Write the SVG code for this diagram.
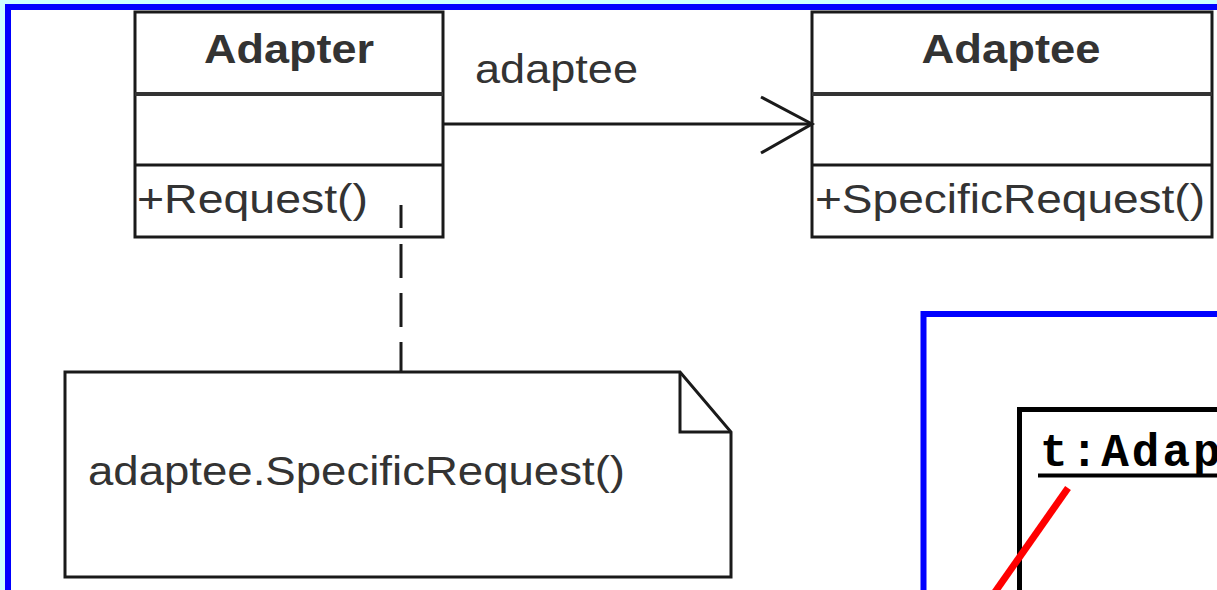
<svg xmlns="http://www.w3.org/2000/svg" width="1217" height="590" viewBox="0 0 1217 590">
<style>
.frame{fill:#ffffff;stroke:#0000ff;stroke-width:6}
.box{fill:#ffffff;stroke:#1a1a1a;stroke-width:3}
.div{stroke:#333333;stroke-width:4}
.div2{stroke:#1a1a1a;stroke-width:3}
.t{font-family:"Liberation Sans",Arial,sans-serif;font-size:40px;fill:#333333}
.tb{font-family:"Liberation Sans",Arial,sans-serif;font-size:40px;font-weight:bold;fill:#333333}
.conn{fill:none;stroke:#1a1a1a;stroke-width:3}
.mono{font-family:"Liberation Mono","Courier New",monospace;font-size:46px;font-weight:bold;fill:#000000;letter-spacing:3px}
</style>
<rect x="0" y="0" width="1217" height="590" fill="#ccffff"/>
<rect class="frame" x="8" y="7" width="1400" height="800"/>

<g id="adapter">
  <rect class="box" x="135" y="12" width="308" height="225"/>
  <line class="div" x1="135" y1="94" x2="443" y2="94"/>
  <line class="div2" x1="135" y1="165" x2="443" y2="165"/>
  <text class="tb" x="289" y="63" text-anchor="middle" textLength="170" lengthAdjust="spacingAndGlyphs">Adapter</text>
  <text class="t" x="137" y="213" textLength="231" lengthAdjust="spacingAndGlyphs">+Request()</text>
</g>

<g id="adaptee">
  <rect class="box" x="812" y="12" width="400" height="225"/>
  <line class="div" x1="812" y1="94" x2="1212" y2="94"/>
  <line class="div2" x1="812" y1="165" x2="1212" y2="165"/>
  <text class="tb" x="1011" y="63" text-anchor="middle" textLength="179" lengthAdjust="spacingAndGlyphs">Adaptee</text>
  <text class="t" x="815" y="213" textLength="390" lengthAdjust="spacingAndGlyphs">+SpecificRequest()</text>
</g>

<g id="note">
  <path class="box" d="M65,372 L680,372 L731,432 L731,577 L65,577 Z"/>
  <path class="conn" d="M680,372 L680,432 L731,432" stroke="#444444" stroke-width="4"/>
  <text class="t" x="88" y="485" textLength="537" lengthAdjust="spacingAndGlyphs">adaptee.SpecificRequest()</text>
</g>

<g id="connectors">
  <line class="conn" x1="443" y1="124" x2="812" y2="124"/>
  <path class="conn" d="M761,97 L812,124 L761,153"/>
  <text class="t" x="475" y="83" textLength="163" lengthAdjust="spacingAndGlyphs">adaptee</text>
  <line class="conn" x1="401" y1="205" x2="401" y2="372" stroke-dasharray="23 16 34 15 34 15 30"/>
</g>

<g id="panel">
  <rect class="frame" x="923.5" y="314" width="600" height="400"/>
  <rect x="1019.5" y="409.5" width="400" height="300" fill="#ffffff" stroke="#000000" stroke-width="5"/>
  <text class="mono" x="1040" y="466">t:Adapter</text>
  <line x1="1038" y1="475.5" x2="1217" y2="475.5" stroke="#000000" stroke-width="4"/>
  <line x1="1068" y1="488" x2="995" y2="592" stroke="#ff0000" stroke-width="7"/>
</g>
</svg>
